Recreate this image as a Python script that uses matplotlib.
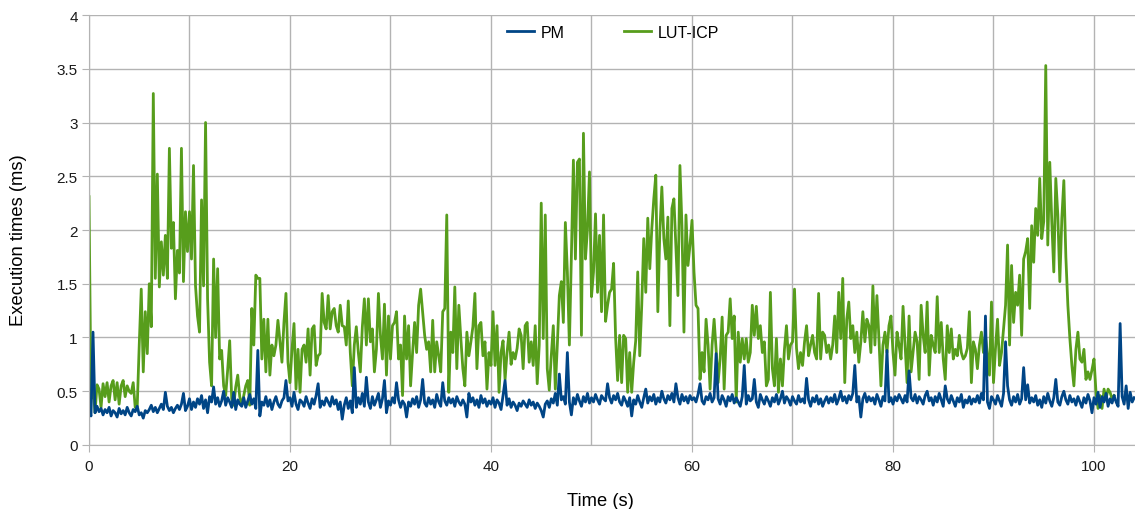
import numpy as np
import matplotlib.pyplot as plt

step = 0.2  # seconds between samples

pm = [
    0.33, 0.27, 1.05, 0.3, 0.36, 0.31, 0.34, 0.28, 0.33, 0.3,
    0.35, 0.27, 0.32, 0.3, 0.26, 0.34, 0.29, 0.32, 0.28, 0.35,
    0.3, 0.27, 0.33, 0.31, 0.36, 0.28, 0.3, 0.25, 0.32, 0.3,
    0.33, 0.37, 0.31, 0.35, 0.3, 0.34, 0.38, 0.33, 0.49, 0.36,
    0.32, 0.35, 0.3, 0.34, 0.37, 0.33, 0.38, 0.48, 0.32, 0.36,
    0.43, 0.33, 0.4, 0.35, 0.43, 0.38, 0.46, 0.34, 0.42, 0.3,
    0.45, 0.4, 0.54, 0.38, 0.44, 0.36, 0.41, 0.5, 0.37, 0.44,
    0.4, 0.35, 0.49, 0.33, 0.42, 0.38, 0.36, 0.44, 0.35, 0.41,
    0.47, 0.38, 0.43, 0.34, 0.88, 0.27, 0.4, 0.37, 0.45, 0.36,
    0.42, 0.33, 0.4, 0.45, 0.38, 0.35, 0.41, 0.44, 0.6, 0.41,
    0.44, 0.36, 0.49, 0.38, 0.33, 0.42, 0.4, 0.36, 0.45, 0.39,
    0.34, 0.43, 0.38, 0.46, 0.57, 0.35, 0.41, 0.37, 0.44, 0.4,
    0.36, 0.45, 0.38, 0.42, 0.33, 0.4, 0.24, 0.37, 0.44, 0.34,
    0.41, 0.3, 0.72, 0.35, 0.44, 0.38, 0.48, 0.36, 0.63, 0.4,
    0.34, 0.45, 0.37, 0.42, 0.48, 0.35, 0.43, 0.6, 0.3, 0.41,
    0.37, 0.44, 0.39, 0.58, 0.42, 0.35, 0.41, 0.38, 0.26, 0.4,
    0.36, 0.43, 0.38, 0.45, 0.35, 0.42, 0.61, 0.39, 0.36, 0.44,
    0.38, 0.42, 0.35, 0.47, 0.4, 0.36, 0.58, 0.41, 0.37, 0.44,
    0.39, 0.43, 0.36, 0.45, 0.4, 0.37, 0.42, 0.38, 0.26, 0.48,
    0.4, 0.44, 0.37, 0.42, 0.35, 0.46, 0.39, 0.43, 0.36, 0.41,
    0.38, 0.44, 0.35, 0.42, 0.39, 0.33, 0.46, 0.6, 0.37, 0.43,
    0.35, 0.4, 0.37, 0.32, 0.39, 0.36, 0.41, 0.38, 0.35, 0.42,
    0.37, 0.4, 0.34, 0.39, 0.36, 0.32, 0.26, 0.38, 0.41, 0.35,
    0.43, 0.39, 0.48, 0.37, 0.66, 0.42, 0.45, 0.38, 0.86, 0.4,
    0.28, 0.44, 0.38, 0.47, 0.41, 0.36, 0.45, 0.4, 0.48, 0.39,
    0.44, 0.4, 0.47, 0.42, 0.38, 0.46, 0.43, 0.41, 0.57, 0.44,
    0.39, 0.46, 0.42, 0.48, 0.4, 0.37, 0.45, 0.41, 0.36, 0.44,
    0.27, 0.42, 0.38, 0.46, 0.4, 0.35, 0.44, 0.52, 0.39, 0.45,
    0.41, 0.47, 0.38, 0.44, 0.4, 0.5, 0.43, 0.39, 0.46, 0.42,
    0.48, 0.4, 0.57, 0.44, 0.38, 0.47, 0.41, 0.45, 0.39, 0.46,
    0.42, 0.44, 0.4, 0.47, 0.57, 0.41, 0.38, 0.45, 0.42, 0.48,
    0.4, 0.44, 0.85, 0.43, 0.38, 0.46, 0.42, 0.36, 0.45, 0.41,
    0.47, 0.39, 0.44, 0.4, 0.36, 0.45, 0.74, 0.38, 0.46, 0.41,
    0.43, 0.61, 0.4, 0.35, 0.47, 0.42, 0.38, 0.45, 0.41, 0.36,
    0.44, 0.4, 0.47, 0.38, 0.43, 0.5, 0.39, 0.45, 0.42, 0.37,
    0.45, 0.41, 0.38, 0.46, 0.4, 0.43, 0.39, 0.62, 0.42, 0.36,
    0.44, 0.4, 0.46, 0.38, 0.43, 0.36, 0.41, 0.45, 0.39, 0.44,
    0.4, 0.47, 0.38, 0.43, 0.5, 0.41, 0.45, 0.39, 0.46, 0.42,
    0.48, 0.74, 0.4, 0.45, 0.26, 0.43, 0.48, 0.4, 0.45, 0.41,
    0.44, 0.38, 0.47, 0.42, 0.36, 0.45, 0.41, 0.88, 0.4, 0.44,
    0.38, 0.45, 0.41, 0.47, 0.43, 0.39, 0.46, 0.4, 0.69, 0.44,
    0.41, 0.47, 0.39, 0.45, 0.42, 0.38, 0.46, 0.5, 0.41, 0.44,
    0.37, 0.45, 0.4, 0.48, 0.42, 0.36, 0.55, 0.43, 0.39, 0.46,
    0.41, 0.36, 0.44, 0.4, 0.47, 0.35, 0.42, 0.39, 0.45, 0.38,
    0.43, 0.4, 0.46, 0.39, 0.48, 0.42, 1.2, 0.4, 0.34, 0.45,
    0.42, 0.38, 0.46, 0.41, 0.36, 0.48, 0.96, 0.55, 0.42, 0.37,
    0.45, 0.4, 0.47, 0.38, 0.43, 0.72, 0.42, 0.56, 0.39, 0.44,
    0.4, 0.46, 0.37, 0.42, 0.35, 0.45, 0.39, 0.48, 0.41, 0.36,
    0.44, 0.61, 0.4, 0.37, 0.45, 0.5, 0.42, 0.38, 0.46, 0.4,
    0.43, 0.37, 0.45, 0.4, 0.35, 0.44, 0.39, 0.47, 0.41, 0.3,
    0.44, 0.38, 0.49, 0.35, 0.45, 0.4, 0.48, 0.36, 0.43, 0.39,
    0.46, 0.4, 0.36, 1.13, 0.45, 0.38, 0.55, 0.34, 0.49, 0.4,
    0.44,
]

lut_icp = [
    2.31, 0.43, 0.55, 0.3, 0.56, 0.52, 0.35, 0.57, 0.45, 0.58,
    0.4, 0.55, 0.6, 0.42, 0.58, 0.38, 0.55, 0.6, 0.45, 0.55,
    0.5, 0.48, 0.58, 0.35, 0.36, 0.93, 1.45, 0.68, 1.24, 0.85,
    1.5, 1.1, 3.27, 1.55, 2.52, 1.47, 1.89, 1.58, 1.95, 1.55,
    2.76, 1.83, 2.07, 1.36, 1.81, 1.6, 2.76, 1.52, 2.17, 1.8,
    2.17, 1.73, 2.6, 1.48, 1.2, 1.05, 2.28, 1.48, 3.0, 1.36,
    0.77, 0.55, 1.73, 1.0, 1.64, 0.8, 0.88, 0.55, 0.46, 0.7,
    0.97, 0.43, 0.37, 0.54, 0.65, 0.45, 0.37, 0.46, 0.55, 0.6,
    0.37, 1.27, 0.93, 1.58, 1.55, 1.55, 0.8, 1.17, 0.68, 1.17,
    0.65, 0.93, 0.83, 0.93, 1.16, 0.96, 0.77, 1.14, 1.41, 0.77,
    0.58, 0.89, 1.13, 0.52, 0.89, 0.49, 0.89, 0.93, 0.77, 1.08,
    0.65, 1.08, 1.11, 0.74, 0.83, 0.85, 1.41, 1.14, 1.08, 1.39,
    1.08, 1.24, 1.27, 1.11, 1.05, 1.3, 1.11, 1.1, 0.93, 1.34,
    0.86, 0.55, 0.93, 1.1, 0.86, 0.68, 1.1, 1.36, 0.93, 1.36,
    0.96, 1.08, 0.68, 0.89, 1.41, 1.02, 0.8, 1.31, 0.65, 1.2,
    0.8, 1.11, 1.14, 1.24, 0.8, 0.93, 0.46, 1.2, 0.8, 1.11,
    0.55, 0.86, 1.14, 0.86, 1.3, 1.45, 1.24, 1.02, 0.89, 0.96,
    0.68, 1.16, 0.68, 0.96, 0.83, 0.68, 1.24, 1.27, 2.14, 0.49,
    1.05, 0.86, 1.47, 0.71, 1.3, 0.99, 0.71, 0.55, 1.05, 0.83,
    0.96, 1.1, 1.41, 0.71, 1.11, 1.14, 0.83, 0.96, 0.52, 0.86,
    0.74, 1.24, 0.74, 1.11, 0.49, 0.86, 0.97, 0.61, 0.86, 1.05,
    0.75, 0.86, 0.8, 0.9, 1.08, 1.02, 0.71, 1.11, 1.14, 0.77,
    0.96, 0.74, 1.11, 0.57, 0.93, 2.25, 0.99, 2.14, 0.71, 0.51,
    0.83, 1.11, 0.52, 0.93, 1.39, 1.52, 1.14, 2.07, 1.61, 0.93,
    1.76, 2.65, 1.73, 2.63, 2.66, 1.02, 2.9, 1.73, 2.01, 2.54,
    1.38, 1.61, 2.15, 1.42, 1.95, 1.24, 2.14, 1.15, 1.3, 1.42,
    1.45, 1.69, 1.0, 0.6, 1.02, 0.58, 1.02, 0.99, 0.49, 0.86,
    0.49, 0.77, 0.97, 1.61, 0.83, 1.3, 1.92, 1.42, 2.11, 1.64,
    2.01, 2.29, 2.51, 1.24, 1.98, 2.4, 1.92, 1.73, 2.12, 1.11,
    2.2, 2.29, 1.83, 1.39, 2.6, 2.04, 1.05, 2.14, 1.67, 1.86,
    2.09, 1.61, 1.3, 1.27, 0.61, 0.86, 0.68, 1.17, 0.93, 0.52,
    0.93, 1.17, 0.89, 0.58, 0.8, 1.19, 0.52, 1.02, 1.05, 1.36,
    0.99, 1.2, 0.4, 1.05, 0.77, 0.99, 0.8, 0.99, 0.77, 0.86,
    1.3, 1.02, 1.29, 0.99, 1.11, 0.86, 0.96, 0.55, 0.61, 1.42,
    0.71, 0.55, 0.99, 0.49, 0.8, 0.55, 0.89, 1.11, 0.8, 0.93,
    0.96, 1.45, 0.9, 0.71, 0.86, 0.74, 0.96, 1.11, 0.83, 0.93,
    1.02, 0.86, 0.8, 1.41, 0.8, 1.05, 1.02, 0.86, 0.93, 0.8,
    0.93, 1.2, 0.86, 1.42, 0.99, 1.55, 0.58, 1.17, 1.33, 0.99,
    1.11, 0.86, 1.05, 0.77, 0.96, 1.24, 0.96, 1.17, 1.11, 0.86,
    1.48, 0.93, 1.39, 0.99, 0.55, 0.93, 1.05, 0.86, 1.11, 1.2,
    0.86, 0.65, 1.05, 0.93, 0.8, 1.29, 0.93, 0.58, 1.2, 0.68,
    0.86, 1.05, 0.96, 0.61, 1.3, 1.02, 0.86, 1.33, 0.65, 1.02,
    0.93, 0.86, 1.38, 0.86, 1.14, 0.8, 0.61, 1.11, 0.86, 1.08,
    0.8, 0.89, 0.83, 1.02, 0.86, 0.8, 0.83, 0.9, 1.24, 0.58,
    0.96, 0.89, 0.71, 0.93, 1.05, 0.86, 1.02, 0.83, 0.65, 1.33,
    0.58, 0.9, 1.17, 0.74, 0.86, 1.08, 1.3, 1.86, 0.93, 1.67,
    1.14, 1.42, 1.3, 1.58, 1.02, 1.73, 1.8, 1.92, 1.27, 2.04,
    1.7, 2.2, 1.95, 2.48, 1.92, 2.08, 3.53, 1.86, 2.63, 2.08,
    1.61, 2.48, 2.14, 1.52, 2.11, 2.46, 1.75, 1.3, 0.99, 0.74,
    0.55, 0.89, 1.05, 0.8, 0.77, 0.89, 0.61, 0.68, 0.61, 0.7,
    0.8, 0.49, 0.34, 0.46, 0.34, 0.52, 0.43, 0.52, 0.49, 0.43,
    0.46,
]

y_ticks = [0, 0.5, 1, 1.5, 2, 2.5, 3, 3.5, 4]

pm_time = np.arange(len(pm)) * step
lut_time = np.arange(len(lut_icp)) * step

plt.rcParams['font.family'] = ['Liberation Sans', 'DejaVu Sans']
grid_color = '#b3b3b3'

fig = plt.figure(figsize=(11.35, 5.1), dpi=100)
ax = fig.add_axes([0.0784, 0.1255, 0.9216, 0.8431])

line_lut, = ax.plot(lut_time, lut_icp, color='#579d1c', lw=2)
line_pm, = ax.plot(pm_time, pm, color='#004586', lw=2)

ax.set_xlim(0, 104.08)
ax.set_ylim(0, 4)
ax.set_xticks(np.arange(0, 101, 20))
ax.set_xticks(np.arange(0, 101, 10), minor=True)
ax.set_yticks(y_ticks)
ax.set_yticklabels([f'{v:g}' for v in y_ticks])

ax.grid(True, which='both', color=grid_color, lw=1)
ax.set_axisbelow(True)
ax.spines['top'].set_visible(False)
ax.spines['right'].set_visible(False)
ax.spines['left'].set_color(grid_color)
ax.spines['bottom'].set_color(grid_color)
ax.tick_params(which='major', color=grid_color, length=5, labelsize=11, labelcolor='#1a1a1a')
ax.tick_params(which='minor', length=0)
ax.tick_params(axis='y', pad=3)
ax.tick_params(axis='x', pad=5)

ax.set_xlabel('Time (s)', fontsize=13.2)
ax.xaxis.set_label_coords(0.489, -0.11)
ax.set_ylabel('Execution times (ms)', fontsize=13.2)
ax.yaxis.set_label_coords(-0.059, 0.479)

ax.legend([line_pm, line_lut], ['PM', 'LUT-ICP'], loc='center',
          bbox_to_anchor=(0.501, 0.96), ncol=2, frameon=False,
          fontsize=11.5, handlelength=1.7, handletextpad=0.4, columnspacing=3.7)

fig.savefig('out.png', dpi=100)
